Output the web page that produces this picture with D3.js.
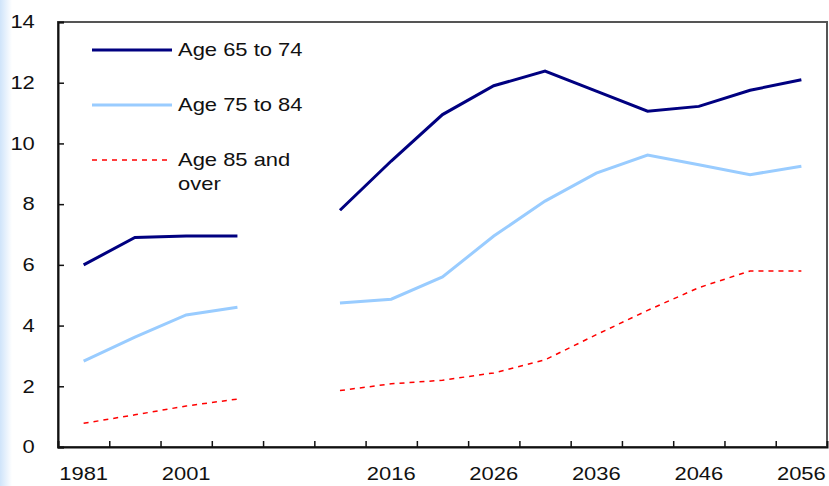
<!DOCTYPE html>
<html>
<head>
<meta charset="utf-8">
<script src="https://cdn.jsdelivr.net/npm/d3@7"></script>
<style>
  body { margin: 0; background: #fff; }
  text { font-family: Arial, "Liberation Sans", sans-serif; }
</style>
</head>
<body>
<script>
// categories (index 4 is an empty slot on the axis)
var years = ["1981", "1991", "2001", "2005", "", "2011", "2016", "2021", "2026", "2031", "2036", "2041", "2046", "2051", "2056"];
var labelIdx = [0, 2, 4, 6, 8, 10, 12, 14];
var yTicks = [0, 2, 4, 6, 8, 10, 12, 14];

var age65 = [6.0, 6.9, 6.95, 6.95, null, 7.8, 9.42, 10.95, 11.9, 12.38, 11.72, 11.06, 11.22, 11.75, 12.1];
var age75 = [2.83, 3.62, 4.35, 4.6, null, 4.74, 4.87, 5.6, 6.95, 8.1, 9.02, 9.62, 9.3, 8.97, 9.25];
var age85 = [0.78, 1.06, 1.35, 1.58, null, 1.86, 2.08, 2.2, 2.44, 2.87, 3.7, 4.5, 5.25, 5.8, 5.8];

var seriesNames = ["Age 65 to 74", "Age 75 to 84", "Age 85 and|over"];

var w = 829, h = 486;
var margin = {top: 22, right: 2, bottom: 39, left: 58};
var width = w - margin.left - margin.right,
    height = h - margin.top - margin.bottom;
var sx = 1.22; // text in the source is stretched sideways

var svg = d3.select("body").append("svg")
    .attr("width", w)
    .attr("height", h);

// faint blue strip on the left edge of the original image
var grad = svg.append("defs").append("linearGradient").attr("id", "edge");
grad.append("stop").attr("offset", "0").attr("stop-color", "#cfe4fa");
grad.append("stop").attr("offset", "1").attr("stop-color", "#ffffff");
svg.append("rect").attr("x", 0).attr("y", 0).attr("width", 12).attr("height", h).attr("fill", "url(#edge)");

var g = svg.append("g")
    .attr("transform", "translate(" + margin.left + "," + margin.top + ")");

var x = d3.scaleBand().domain(d3.range(years.length)).range([0, width]);
var xb = d3.scaleLinear().domain([0, years.length]).range([0, width]);
var y = d3.scaleLinear().domain([0, 14]).range([height, 0]);

// frame
g.append("rect")
    .attr("width", width).attr("height", height)
    .attr("fill", "none").attr("stroke", "#555").attr("stroke-width", 2);

// y axis
var yAxis = g.append("g")
    .call(d3.axisLeft(y).tickValues(yTicks).tickSize(-6).tickPadding(19));
yAxis.select(".domain").attr("stroke", "#111").attr("stroke-width", 2);
yAxis.selectAll(".tick line").attr("stroke", "#111").attr("stroke-width", 1.5);
yAxis.selectAll("text")
    .attr("font-size", 18).attr("fill", "#111")
    .attr("transform", "scale(" + sx + ",1)");

// x axis: tick marks sit between categories
var xTickAxis = g.append("g")
    .attr("transform", "translate(0," + height + ")")
    .call(d3.axisBottom(xb).tickValues(d3.range(1, years.length)).tickSize(-6).tickFormat(""));
xTickAxis.select(".domain").attr("stroke", "#111").attr("stroke-width", 2);
xTickAxis.selectAll(".tick line").attr("stroke", "#111").attr("stroke-width", 1.5);

var xLabels = g.append("g")
    .attr("transform", "translate(0," + height + ")")
    .call(d3.axisBottom(x).tickValues(labelIdx).tickSize(0).tickPadding(20)
        .tickFormat(function(i) { return years[i]; }));
xLabels.select(".domain").remove();
xLabels.selectAll("text")
    .attr("font-size", 18).attr("fill", "#111")
    .attr("transform", "scale(" + sx + ",1)");

var line = d3.line()
    .defined(function(d) { return d != null; })
    .x(function(d, i) { return x(i) + x.bandwidth() / 2; })
    .y(function(d) { return y(d); });

var styles = [
    {color: "#000080", width: 3, dash: null},
    {color: "#99ccff", width: 3, dash: null},
    {color: "#ff0000", width: 1.5, dash: "5,5"}
];
var data = [age65, age75, age85];

data.forEach(function(vals, k) {
    g.append("path")
        .datum(vals)
        .attr("d", line)
        .attr("fill", "none")
        .attr("stroke", styles[k].color)
        .attr("stroke-width", styles[k].width)
        .attr("stroke-dasharray", styles[k].dash);
});

// legend
var leg = g.append("g").attr("transform", "translate(34,28)");
seriesNames.forEach(function(name, k) {
    var row = leg.append("g").attr("transform", "translate(0," + (k * 55) + ")");
    row.append("line")
        .attr("x1", 0).attr("x2", 80)
        .attr("stroke", styles[k].color)
        .attr("stroke-width", styles[k].width)
        .attr("stroke-dasharray", styles[k].dash);
    var t = row.append("text")
        .attr("transform", "translate(86,0) scale(" + sx + ",1)")
        .attr("font-size", 18).attr("fill", "#111");
    name.split("|").forEach(function(part, j) {
        t.append("tspan").attr("x", 0).attr("dy", j === 0 ? "0.35em" : "1.3em").text(part);
    });
});
</script>
</body>
</html>
